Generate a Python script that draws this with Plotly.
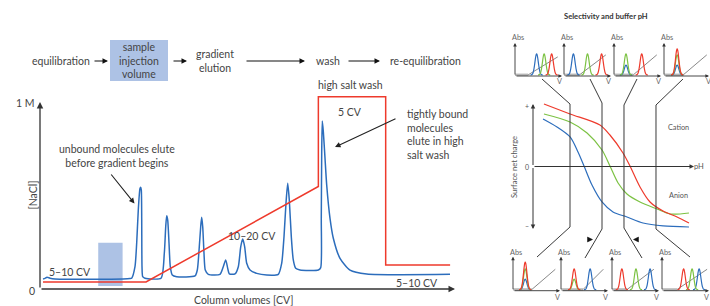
import numpy as np
import plotly.graph_objects as go

W, H = 710, 306

# ---------------- main chromatogram (x: column volumes, y: [NaCl] M / UV) ----------------
salt_cv = [0.73, 25.67, 67.4, 67.4, 83.7, 83.7, 99.3]
salt_conc = [0.038, 0.038, 0.551, 1.034, 1.034, 0.129, 0.129]

uv_cv = [0.73, 1.21, 1.70, 2.42, 3.63, 20.10, 21.79, 22.20, 23.00, 23.41, 23.80, 24.21, 24.38, 24.53, 24.63, 24.70, 24.87, 25.42,
         29.30, 30.10, 30.44, 30.68, 30.92, 31.24, 31.55, 32.03, 33.10,
         37.53, 38.09, 38.57, 38.91, 39.15, 39.40, 39.71, 40.02, 40.75,
         43.58, 44.38, 44.96, 45.45, 45.84,
         47.22, 48.02, 48.60, 49.08, 49.56, 50.05, 50.85, 52.47, 54.89,
         57.70, 58.52, 59.08, 59.56, 59.98, 60.36, 60.85, 61.33, 61.91, 62.95,
         67.39, 67.97, 68.11, 68.21, 68.35, 68.60, 69.01, 69.42, 70.22, 71.02, 72.64, 75.06, 79.10, 99.27]
uv_signal = [0.054, 0.057, 0.063, 0.058, 0.054, 0.054, 0.056, 0.058, 0.120, 0.246, 0.425, 0.541, 0.547, 0.532, 0.371, 0.120, 0.066, 0.058,
             0.058, 0.192, 0.335, 0.394, 0.371, 0.246, 0.120, 0.075, 0.066,
             0.070, 0.102, 0.227, 0.335, 0.386, 0.335, 0.192, 0.102, 0.079,
             0.079, 0.120, 0.156, 0.111, 0.081,
             0.081, 0.120, 0.227, 0.269, 0.227, 0.138, 0.102, 0.084, 0.075,
             0.079, 0.138, 0.281, 0.461, 0.568, 0.479, 0.281, 0.156, 0.111, 0.102,
             0.102, 0.115, 0.380, 0.738, 0.903, 0.846, 0.703, 0.559, 0.380, 0.273, 0.165, 0.102, 0.081, 0.079]

inj_cv = [14.1, 20.0]
inj_level = [0.016, 0.249]

# ---------------- surface net charge vs pH ----------------
ph_red = [0.69, 2.33, 4.21, 4.84, 5.66, 6.10, 6.73, 7.36, 8.18, 9.06, 9.81]
charge_red = [1.016, 0.854, 0.675, 0.512, 0.22, 0.008, -0.333, -0.577, -0.724, -0.821, -0.919]
ph_green = [0.69, 2.33, 3.40, 4.34, 4.84, 5.35, 5.91, 6.73, 7.80, 8.62, 9.81]
charge_green = [0.854, 0.724, 0.545, 0.268, 0.008, -0.268, -0.447, -0.577, -0.691, -0.772, -0.756]
ph_blue = [0.63, 1.51, 2.33, 2.83, 3.21, 3.71, 4.34, 5.03, 5.91, 6.92, 8.18, 9.81]
charge_blue = [0.772, 0.642, 0.480, 0.236, 0.008, -0.301, -0.577, -0.740, -0.821, -0.919, -0.967, -0.984]

# ---------------- small chromatograms (V 0-10, Abs 0-1) ----------------
top_blue_v = [4.6, 2.0, 2.55, 2.8]
top_blue_abs = [0.64, 0.64, 0.30, 0.30]
top_green_v = [6.2, 5.0, 2.55, 2.8]
top_green_abs = [0.64, 0.64, 0.64, 0.61]
top_red_v = [7.8, 8.0, 5.9, 2.8]
top_red_abs = [0.64, 0.64, 0.64, 0.79]
top_grad_start = [2.8, 3.3, 4.1, 4.1]
top_grad_end = [9.1, 8.9, 9.1, 9.1]
top_grad_top = [0.58, 0.64, 0.64, 0.64]

bot_blue_v = [2.6, 6.2, 8.1, 7.9]
bot_blue_abs = [0.31, 0.61, 0.61, 0.61]
bot_green_v = [2.6, 2.8, 5.1, 6.4]
bot_green_abs = [0.61, 0.31, 0.61, 0.61]
bot_red_v = [2.6, 2.8, 2.1, 4.6]
bot_red_abs = [0.81, 0.61, 0.61, 0.61]
bot_grad_start = [4.0, 4.7, 3.2, 3.2]
bot_grad_end = [9.0, 9.0, 8.9, 9.6]
bot_grad_top = [0.63, 0.63, 0.63, 0.63]

# ---------------- styling ----------------
FONT = "Lato, 'Noto Sans', sans-serif"
TXT = "#444444"
BLUE = "#2c6dbc"
RED = "#ee3a2c"
GREEN = "#7cc243"
DARK = "#333333"
FS = 10.5

fig = go.Figure()
layout_axes = {}
annotations = []
shapes = []


def add_axes(n, xpx, ypx, xr, yr):
    xk = 'xaxis' if n == 1 else f'xaxis{n}'
    yk = 'yaxis' if n == 1 else f'yaxis{n}'
    xa = 'x' if n == 1 else f'x{n}'
    ya = 'y' if n == 1 else f'y{n}'
    layout_axes[xk] = dict(domain=[xpx[0] / W, min(xpx[1] / W, 1.0)], range=xr, visible=False,
                           anchor=ya, fixedrange=True)
    layout_axes[yk] = dict(domain=[1 - ypx[1] / H, 1 - ypx[0] / H], range=yr, visible=False,
                           anchor=xa, fixedrange=True)
    return xa, ya


def arrow(x0, y0, x1, y1, color=DARK, width=1.1, size=1.0, head=2):
    annotations.append(dict(x=x1 / W, y=1 - y1 / H, xref='paper', yref='paper',
                            ax=x0 - x1, ay=y0 - y1, axref='pixel', ayref='pixel',
                            showarrow=True, text='', arrowhead=head, arrowsize=size,
                            arrowwidth=width, arrowcolor=color, standoff=0, startstandoff=0))


def text(px, py, s, size=FS, color=TXT, xanchor='center', align='center', angle=0, bold=False):
    if bold:
        s = f"<b>{s}</b>"
    annotations.append(dict(x=px / W, y=1 - py / H, xref='paper', yref='paper', text=s,
                            showarrow=False, xanchor=xanchor, yanchor='middle', align=align,
                            textangle=angle, font=dict(family=FONT, size=size, color=color)))


def line(xa, ya, x, y, color, width, shape='linear', smoothing=1.0):
    fig.add_trace(go.Scatter(x=x, y=y, xaxis=xa, yaxis=ya, mode='lines',
                             line=dict(color=color, width=width, shape=shape, smoothing=smoothing),
                             hoverinfo='skip', showlegend=False))


# ---------------- main chart ----------------
xa, ya = add_axes(1, (40, 453), (93, 289), [0, 100], [0, (289 - 93) / 186])
shapes.append(dict(type='rect', xref=xa, yref=ya, x0=inj_cv[0], x1=inj_cv[1], y0=inj_level[0],
                   y1=inj_level[1], fillcolor='#adc2e5', line=dict(width=0), layer='below'))
line(xa, ya, uv_cv, uv_signal, BLUE, 1.5, 'spline', 0.6)
line(xa, ya, salt_cv, salt_conc, RED, 1.5)

arrow(40, 289, 40, 102, DARK, 1.3, 1.0)
arrow(40, 289, 455, 289, DARK, 1.3, 1.0)
text(25, 103, "1 M")
text(32, 290.5, "0")
text(32.5, 195, "[NaCl]", angle=-90)
text(243, 300, "Column volumes [CV]")
text(70, 271.5, "5–10 CV")
text(417, 282.5, "5–10 CV")
text(252, 235.5, "10–20 CV")
text(350, 111.5, "5 CV")
text(350, 85, "high salt wash")
text(116.7, 156, "unbound molecules elute<br>before gradient begins")
arrow(110, 173, 134.5, 203.5, "#222222", 1.1, 1.0)
text(405, 134, "tightly bound<br>molecules<br>elute in high<br>salt wash", xanchor='left', align='left')
arrow(397, 118, 335, 147, "#222222", 1.1, 1.0)

# flow row
shapes.append(dict(type='rect', xref='paper', yref='paper', x0=110 / W, x1=168 / W,
                   y0=1 - 81 / H, y1=1 - 40 / H, fillcolor='#adc2e5', line=dict(width=0), layer='below'))
text(61, 61, "equilibration")
text(139, 61, "sample<br>injection<br>volume")
text(215, 61.5, "gradient<br>elution")
text(328, 61, "wash")
text(388, 61, "re-equilibration", xanchor='left', align='left')
arrow(93, 61, 108, 61, "#111111", 1.1, 1.0)
arrow(172, 61, 187, 61, "#111111", 1.1, 1.0)
arrow(245, 61, 305, 61, "#111111", 1.1, 1.0)
arrow(347, 61, 380, 61, "#111111", 1.1, 1.0)

# ---------------- right panel ----------------
text(606, 15.5, "Selectivity and buffer pH", 7.6, color=DARK, bold=True)

# middle: surface net charge
xm, ym = add_axes(2, (533, 692), (100, 233), [0, 10], [-(233 - 166.5) / 61.5, (166.5 - 100) / 61.5])
line(xm, ym, ph_blue, charge_blue, BLUE, 1.2, 'spline', 0.8)
line(xm, ym, ph_green, charge_green, GREEN, 1.2, 'spline', 0.8)
line(xm, ym, ph_red, charge_red, RED, 1.2, 'spline', 0.8)
arrow(533, 166.5, 533, 104, DARK, 1.0, 0.9)
arrow(533, 166.5, 533, 229, DARK, 1.0, 0.9)
arrow(533, 166.5, 694, 166.5, DARK, 1.0, 0.9)
text(527, 106, "+", 7, color="#555")
text(527, 166.5, "0", 7, color="#555")
text(527, 226, "–", 7, color="#555")
text(699, 166.5, "pH", 7.5, color="#555")
text(514, 167, "Surface net charge", 7.6, color="#555", angle=-90)
text(678, 127, "Cation", 7.3, color="#555")
text(678, 195, "Anion", 7.3, color="#555")

# connector lines
connectors = [
    [(542, 79), (570, 104), (570, 227), (537, 257)],
    [(590, 79), (602, 103), (602, 229), (585, 258)],
    [(637, 79), (624, 105), (624, 228), (642, 258)],
    [(683, 79), (656, 105), (656, 229), (690, 257)],
]
for pts in connectors:
    path = "M " + " L ".join(f"{px / W:.5f},{1 - py / H:.5f}" for px, py in pts)
    shapes.append(dict(type='path', xref='paper', yref='paper', path=path,
                       line=dict(color='#3a3a3a', width=1.0)))
for tri in ([(587.5, 237), (592.5, 239.5), (587.5, 242)], [(638.5, 237), (633.5, 239.5), (638.5, 242)]):
    path = "M " + " L ".join(f"{px / W:.5f},{1 - py / H:.5f}" for px, py in tri) + " Z"
    shapes.append(dict(type='path', xref='paper', yref='paper', path=path,
                       fillcolor='#111111', line=dict(color='#111111', width=0.5)))


def small_chart(n, ax_px, axis_py, top_py, peaks, g0, g1, gtop, vpos, abspos):
    end_px = min(ax_px + 47, W)
    xs_, ys_ = add_axes(n, (ax_px, end_px), (top_py, axis_py), [0, (end_px - ax_px) / 4.7], [0, 1])
    line(xs_, ys_, [0, g0], [0.035, 0.035], '#b5b5b5', 2.5)
    line(xs_, ys_, [g0, g1], [0.035, gtop], '#7a7a7a', 0.9)
    for c, h, col in peaks:
        v = c + np.linspace(-1.3, 1.3, 27)
        a = 0.03 + h * np.exp(-0.5 * ((v - c) / 0.36) ** 2)
        line(xs_, ys_, v, a, col, 1.2, 'spline', 0.8)
    arrow(ax_px, axis_py, ax_px, top_py, DARK, 0.9, 0.8)
    arrow(ax_px, axis_py, ax_px + 47, axis_py, DARK, 0.9, 0.8)
    text(ax_px + 2.5, abspos, "Abs", 7.3, color="#666")
    text(ax_px + 44, vpos, "V", 7.3, color="#666")


top_axes_px = [515, 564, 614, 664]
bot_axes_px = [513, 561, 612, 662]
n = 3
for i, axp in enumerate(top_axes_px):
    peaks = [(top_blue_v[i], top_blue_abs[i], BLUE), (top_green_v[i], top_green_abs[i], GREEN),
             (top_red_v[i], top_red_abs[i], RED)]
    small_chart(n, axp, 76, 43, peaks, top_grad_start[i], top_grad_end[i], top_grad_top[i], 81.5, 37)
    n += 1
for i, axp in enumerate(bot_axes_px):
    peaks = [(bot_blue_v[i], bot_blue_abs[i], BLUE), (bot_green_v[i], bot_green_abs[i], GREEN),
             (bot_red_v[i], bot_red_abs[i], RED)]
    small_chart(n, axp, 290.7, 256.7, peaks, bot_grad_start[i], bot_grad_end[i], bot_grad_top[i], 297, 253)
    n += 1

fig.update_layout(width=W, height=H, margin=dict(l=0, r=0, t=0, b=0),
                  paper_bgcolor='white', plot_bgcolor='rgba(0,0,0,0)', showlegend=False,
                  annotations=annotations, shapes=shapes, **layout_axes)
fig.write_html("out.html", config={'displayModeBar': False},
               post_script="document.body.style.margin='0';document.body.style.padding='0';document.body.style.overflow='hidden';")
